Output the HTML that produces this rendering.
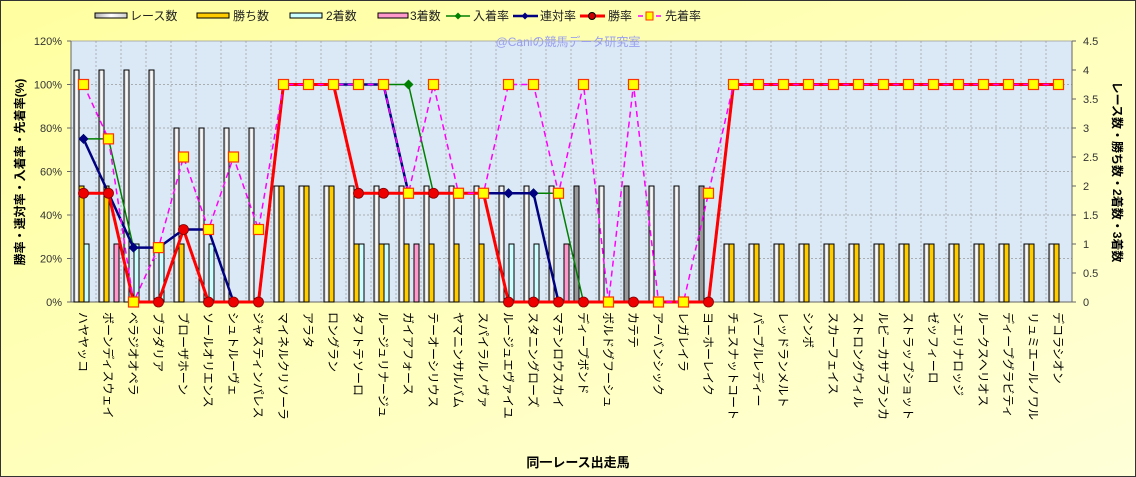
<!DOCTYPE html>
<html><head><meta charset="utf-8"><style>
html,body{margin:0;padding:0;background:#fff;}
svg{display:block;font-family:"Liberation Sans","Noto Sans CJK JP",sans-serif;}
</style></head><body>
<svg id="s" width="1136" height="477" viewBox="0 0 1136 477" xmlns="http://www.w3.org/2000/svg">
<defs>
<linearGradient id="bg" x1="0" y1="0" x2="1" y2="1"><stop offset="0" stop-color="#ffffa0"/><stop offset="1" stop-color="#ffffd8"/></linearGradient>
<linearGradient id="wb" x1="0" y1="0" x2="1" y2="0"><stop offset="0" stop-color="#b0b0b0"/><stop offset="0.5" stop-color="#ffffff"/><stop offset="1" stop-color="#d0d0d0"/></linearGradient>
</defs>
<rect x="0.5" y="0.5" width="1135" height="476" fill="url(#bg)" stroke="#333" stroke-width="1"/>
<rect x="71" y="41" width="1001" height="261" fill="#dbe8f6"/>
<g id="grid"></g>
<g id="bars"></g>
<g id="lines"></g>
<text x="568" y="46" font-size="12" fill="#9aa0ee" text-anchor="middle">@Caniの競馬データ研究室</text>
<g font-size="11" fill="#333" text-anchor="end">
<text x="62" y="306">0%</text><text x="62" y="262.5">20%</text><text x="62" y="219">40%</text><text x="62" y="175.5">60%</text><text x="62" y="132">80%</text><text x="62" y="88.5">100%</text><text x="62" y="45">120%</text>
</g>
<g font-size="11" fill="#333">
<text x="1083" y="306">0</text><text x="1083" y="277">0.5</text><text x="1083" y="248">1</text><text x="1083" y="219">1.5</text><text x="1083" y="190">2</text><text x="1083" y="161">2.5</text><text x="1083" y="132">3</text><text x="1083" y="103">3.5</text><text x="1083" y="74">4</text><text x="1083" y="45">4.5</text>
</g>
<text transform="translate(24,172) rotate(-90)" font-size="12" font-weight="bold" text-anchor="middle" fill="#000">勝率・連対率・入着率・先着率(%)</text>
<text transform="translate(1113,172) rotate(90)" font-size="12" font-weight="bold" text-anchor="middle" fill="#000">レース数・勝ち数・2着数・3着数</text>
<text x="578" y="467" font-size="13" font-weight="bold" text-anchor="middle" fill="#000">同一レース出走馬</text>
<g font-size="12" fill="#222">
<rect x="95" y="13" width="32" height="5" fill="url(#wb)" stroke="#000"/><text x="130" y="20">レース数</text>
<rect x="197" y="13" width="32" height="5" fill="#ffcc00" stroke="#000"/><text x="233" y="20">勝ち数</text>
<rect x="290" y="13" width="32" height="5" fill="#ccffff" stroke="#000"/><text x="326" y="20">2着数</text>
<rect x="378" y="13" width="30" height="5" fill="#ff99cc" stroke="#000"/><text x="410" y="20">3着数</text>
<line x1="446" y1="16" x2="470" y2="16" stroke="#008000" stroke-width="1.5"/><path d="M458 12.5l3.5 3.5-3.5 3.5-3.5-3.5z" fill="#008000"/><text x="473" y="20">入着率</text>
<line x1="513" y1="16" x2="538" y2="16" stroke="#000080" stroke-width="2.5"/><path d="M525 12.5l3.5 3.5-3.5 3.5-3.5-3.5z" fill="#000080"/><text x="540" y="20">連対率</text>
<line x1="580" y1="16" x2="605" y2="16" stroke="#ff0000" stroke-width="3"/><circle cx="592" cy="16" r="3.5" fill="#c00" stroke="#000"/><text x="608" y="20">勝率</text>
<line x1="638" y1="16" x2="662" y2="16" stroke="#ff00ff" stroke-width="1.5" stroke-dasharray="5,4"/><rect x="646" y="12" width="7" height="8" fill="#ffff00" stroke="#ff3300"/><text x="665" y="20">先着率</text>
</g>
<g font-size="12" fill="#000">
<text transform="translate(79,312) rotate(90)">ハヤヤッコ</text>
<text transform="translate(104,312) rotate(90)">ボーンディスウェイ</text>
<text transform="translate(129,312) rotate(90)">ベラジオオペラ</text>
<text transform="translate(154,312) rotate(90)">ブラダリア</text>
<text transform="translate(179,312) rotate(90)">ブローザホーン</text>
<text transform="translate(204,312) rotate(90)">ソールオリエンス</text>
<text transform="translate(229,312) rotate(90)">シュトルーヴェ</text>
<text transform="translate(254,312) rotate(90)">ジャスティンパレス</text>
<text transform="translate(279,312) rotate(90)">マイネルクリソーラ</text>
<text transform="translate(304,312) rotate(90)">アラタ</text>
<text transform="translate(329,312) rotate(90)">ロングラン</text>
<text transform="translate(354,312) rotate(90)">タフトテソーロ</text>
<text transform="translate(379,312) rotate(90)">ルージュリナージュ</text>
<text transform="translate(404,312) rotate(90)">ガイアフォース</text>
<text transform="translate(429,312) rotate(90)">テーオーシリウス</text>
<text transform="translate(454,312) rotate(90)">ヤマニンサルバム</text>
<text transform="translate(479,312) rotate(90)">スパイラルノヴァ</text>
<text transform="translate(504,312) rotate(90)">ルージュエヴァイユ</text>
<text transform="translate(529,312) rotate(90)">スタニングローズ</text>
<text transform="translate(554,312) rotate(90)">マテンロウスカイ</text>
<text transform="translate(579,312) rotate(90)">ディープボンド</text>
<text transform="translate(604,312) rotate(90)">ボルドグフーシュ</text>
<text transform="translate(629,312) rotate(90)">カテテ</text>
<text transform="translate(654,312) rotate(90)">アーバンシック</text>
<text transform="translate(679,312) rotate(90)">レガレイラ</text>
<text transform="translate(704,312) rotate(90)">ヨーホーレイク</text>
<text transform="translate(729,312) rotate(90)">チェスナットコート</text>
<text transform="translate(754,312) rotate(90)">パープルレディー</text>
<text transform="translate(779,312) rotate(90)">レッドランメルト</text>
<text transform="translate(804,312) rotate(90)">シンボ</text>
<text transform="translate(829,312) rotate(90)">スカーフェイス</text>
<text transform="translate(854,312) rotate(90)">ストロングウィル</text>
<text transform="translate(879,312) rotate(90)">ルビーカサブランカ</text>
<text transform="translate(904,312) rotate(90)">ストラップショット</text>
<text transform="translate(929,312) rotate(90)">ゼッフィーロ</text>
<text transform="translate(954,312) rotate(90)">シエリナロッジ</text>
<text transform="translate(979,312) rotate(90)">ルークスヘリオス</text>
<text transform="translate(1004,312) rotate(90)">ディープグラビティ</text>
<text transform="translate(1029,312) rotate(90)">リュミエールノワル</text>
<text transform="translate(1054,312) rotate(90)">デコラシオン</text>
</g>
</svg>
<script>
(function(){
var NS="http://www.w3.org/2000/svg";
function el(p,t,a){var e=document.createElementNS(NS,t);for(var k in a)e.setAttribute(k,a[k]);p.appendChild(e);return e;}
var X0=71,CW=25,YB=302;
function yr(r){return YB-r/120*261;}
function yc(c){return YB-c*58;}
function cx(i){return X0+12.5+i*CW;}
var g=document.getElementById('grid'),b=document.getElementById('bars'),l=document.getElementById('lines');
for(var i=1;i<40;i++)el(g,'line',{x1:X0+i*CW,y1:41,x2:X0+i*CW,y2:302,stroke:'#999','stroke-width':0.7,'stroke-dasharray':'2,2'});
for(var r=20;r<=100;r+=20)el(g,'line',{x1:71,y1:yr(r),x2:1072,y2:yr(r),stroke:'#999','stroke-width':0.7,'stroke-dasharray':'2,2'});
el(g,'line',{x1:71,y1:41,x2:1072,y2:41,stroke:'#999','stroke-width':0.7});
el(g,'line',{x1:71,y1:41,x2:71,y2:302,stroke:'#666'});
el(g,'line',{x1:1072,y1:41,x2:1072,y2:302,stroke:'#666'});
el(g,'line',{x1:71,y1:302,x2:1072,y2:302,stroke:'#666'});
for(var t=0;t<=9;t++)el(g,'line',{x1:1072,y1:YB-t*29,x2:1076,y2:YB-t*29,stroke:'#666'});
for(var t=0;t<=6;t++)el(g,'line',{x1:67,y1:yr(t*20),x2:71,y2:yr(t*20),stroke:'#666'});
var one=[];for(i=0;i<14;i++)one.push(1);
var races=[4,4,4,4,3,3,3,3].concat([2,2,2,2,2,2,2,2,2,2,2,2,2,2,2,2,2,2],one);
var wins=[2,2,0,0,1,0,0,0,2,2,2,1,1,1,1,1,1,0,0,0,0,0,0,0,0,0].concat(one);
var sec=[1,0,1,1,0,1,0,0,0,0,0,1,1,0,0,0,0,1,1,0,0,0,0,0,0,0].concat(one.map(function(){return 0;}));
var thr=sec.map(function(){return 0;});thr[1]=1;thr[13]=1;thr[19]=1;
var gray={20:1,22:1,25:1};
var h=100/3,h2=200/3,H=[];for(i=0;i<14;i++)H.push(100);
var win=[50,50,0,0,h,0,0,0,100,100,100,50,50,50,50,50,50,0,0,0,0,0,0,0,0,0].concat(H);
var ren=[75,50,25,25,h,h,0,0,100,100,100,100,100,50,50,50,50,50,50,0,0,0,0,0,0,0].concat(H);
var nyu=[75,75,25,25,h,h,0,0,100,100,100,100,100,100,50,50,50,50,50,50,0,0,0,0,0,0].concat(H);
var sen=[100,75,0,25,h2,h,h2,h,100,100,100,100,100,50,100,50,50,100,100,50,100,0,100,0,0,50].concat(H);
for(i=0;i<40;i++){
 var x=X0+i*CW+3;
 function bar(v,off,f){if(v>0)el(b,'rect',{x:x+off,y:yc(v),width:5,height:v*58,fill:f,stroke:'#000','stroke-width':1});}
 bar(races[i],0,gray[i]?'#999':'url(#wb)');
 bar(wins[i],5,'#ffcc00');bar(sec[i],10,'#ccffff');bar(thr[i],15,'#ff99cc');
}
function pts(a){return a.map(function(v,i){return cx(i)+','+yr(v);}).join(' ');}
el(l,'polyline',{points:pts(nyu),fill:'none',stroke:'#008000','stroke-width':1.5});
nyu.forEach(function(v,i){el(l,'path',{d:'M'+cx(i)+' '+(yr(v)-5)+'l5 5-5 5-5-5z',fill:'#008000'});});
el(l,'polyline',{points:pts(ren),fill:'none',stroke:'#000080','stroke-width':2.5});
ren.forEach(function(v,i){el(l,'path',{d:'M'+cx(i)+' '+(yr(v)-5)+'l5 5-5 5-5-5z',fill:'#000080'});});
el(l,'polyline',{points:pts(win),fill:'none',stroke:'#ff0000','stroke-width':3});
win.forEach(function(v,i){el(l,'circle',{cx:cx(i),cy:yr(v),r:5,fill:'#ee0000',stroke:'#800000','stroke-width':0.8});});
el(l,'polyline',{points:pts(sen),fill:'none',stroke:'#ff00ff','stroke-width':1.5,'stroke-dasharray':'6,4'});
sen.forEach(function(v,i){el(l,'rect',{x:cx(i)-5,y:yr(v)-5,width:10,height:10,fill:'#ffff00',stroke:'#ff3300','stroke-width':1.2});});
})();
</script>
</body></html>
